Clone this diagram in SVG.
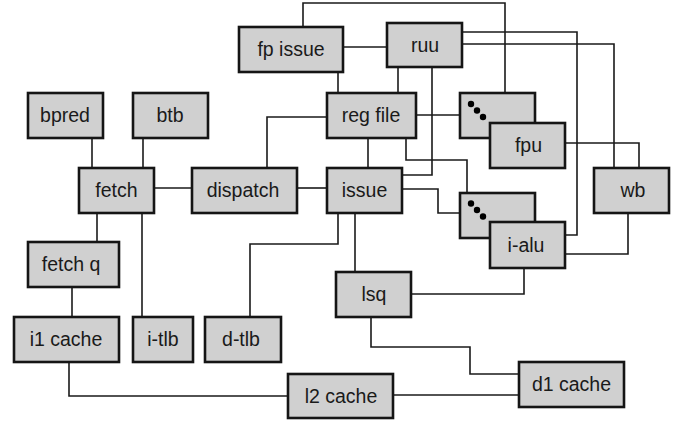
<svg xmlns="http://www.w3.org/2000/svg" width="679" height="421" viewBox="0 0 679 421">
<style>
.b{fill:#d0d0d0;stroke:#151515;stroke-width:2.6}
.t{font-family:"Liberation Sans",Arial,sans-serif;font-size:19.5px;fill:#1a1a1a;text-anchor:middle}
.c path{fill:none;stroke:#1a1a1a;stroke-width:1.6}
.d{fill:#000}
</style>
<rect width="679" height="421" fill="#fff"/>
<g class="c" id="connectors">
<path d="M92,138V168"/>
<path d="M143,138V168"/>
<path d="M154,188H192"/>
<path d="M97,213V242"/>
<path d="M142,213V317"/>
<path d="M72,287V317"/>
<path d="M69,362V396H288"/>
<path d="M393,395H519"/>
<path d="M371,317V347H470V374H519"/>
<path d="M411,294H524V268"/>
<path d="M355,213V272"/>
<path d="M250,317V244H338V213"/>
<path d="M297,188H327"/>
<path d="M267,168V117H327"/>
<path d="M368,138V168"/>
<path d="M343,47H387"/>
<path d="M338,72V93"/>
<path d="M398,67V93"/>
<path d="M432,67V175H402"/>
<path d="M303,27V3H505V93"/>
<path d="M462,32H577V235H565"/>
<path d="M462,44H614V168"/>
<path d="M565,143H639V168"/>
<path d="M565,254H628V213"/>
<path d="M416,115H460"/>
<path d="M406,138V160H467V193"/>
<path d="M402,189H438V213H460"/>
</g>
<g id="bpred"><rect class="b" x="28" y="93" width="75" height="45"/><text class="t" x="65" y="122">bpred</text></g>
<g id="btb"><rect class="b" x="133" y="93" width="75" height="45"/><text class="t" x="170" y="122">btb</text></g>
<g id="fetch"><rect class="b" x="79" y="168" width="75" height="45"/><text class="t" x="116.5" y="197">fetch</text></g>
<g id="dispatch"><rect class="b" x="192" y="168" width="105" height="45"/><text class="t" x="243" y="197">dispatch</text></g>
<g id="fetch-q"><rect class="b" x="28" y="242" width="91" height="45"/><text class="t" x="71" y="271">fetch q</text></g>
<g id="i1-cache"><rect class="b" x="14" y="317" width="105" height="45"/><text class="t" x="66" y="346">i1 cache</text></g>
<g id="i-tlb"><rect class="b" x="133" y="317" width="60" height="45"/><text class="t" x="163" y="346">i-tlb</text></g>
<g id="d-tlb"><rect class="b" x="205" y="317" width="76" height="45"/><text class="t" x="241" y="346">d-tlb</text></g>
<g id="l2-cache"><rect class="b" x="288" y="374" width="105" height="44"/><text class="t" x="341" y="403">l2 cache</text></g>
<g id="fp-issue"><rect class="b" x="239" y="27" width="104" height="45"/><text class="t" x="291" y="56">fp issue</text></g>
<g id="ruu"><rect class="b" x="387" y="23" width="75" height="44"/><text class="t" x="425" y="52">ruu</text></g>
<g id="reg-file"><rect class="b" x="327" y="93" width="89" height="45"/><text class="t" x="371" y="122">reg file</text></g>
<g id="issue"><rect class="b" x="327" y="168" width="75" height="45"/><text class="t" x="364.5" y="197">issue</text></g>
<g id="lsq"><rect class="b" x="336" y="272" width="75" height="45"/><text class="t" x="374" y="301">lsq</text></g>
<g id="d1-cache"><rect class="b" x="519" y="362" width="105" height="45"/><text class="t" x="571.5" y="391">d1 cache</text></g>
<g id="fpu-stack"><rect class="b" x="460" y="93" width="75" height="45"/><circle class="d" cx="471" cy="104" r="3.2"/><circle class="d" cx="477" cy="110.5" r="3.2"/><circle class="d" cx="483" cy="117" r="3.2"/></g>
<g id="fpu"><rect class="b" x="490" y="123" width="75" height="45"/><text class="t" x="528.5" y="152">fpu</text></g>
<g id="ialu-stack"><rect class="b" x="460" y="193" width="75" height="45"/><circle class="d" cx="471" cy="203.5" r="3.2"/><circle class="d" cx="477" cy="210" r="3.2"/><circle class="d" cx="483" cy="216.5" r="3.2"/></g>
<g id="i-alu"><rect class="b" x="490" y="222" width="75" height="46"/><text class="t" x="526" y="252">i-alu</text></g>
<g id="wb"><rect class="b" x="594" y="168" width="75" height="45"/><text class="t" x="633" y="197">wb</text></g>
</svg>
